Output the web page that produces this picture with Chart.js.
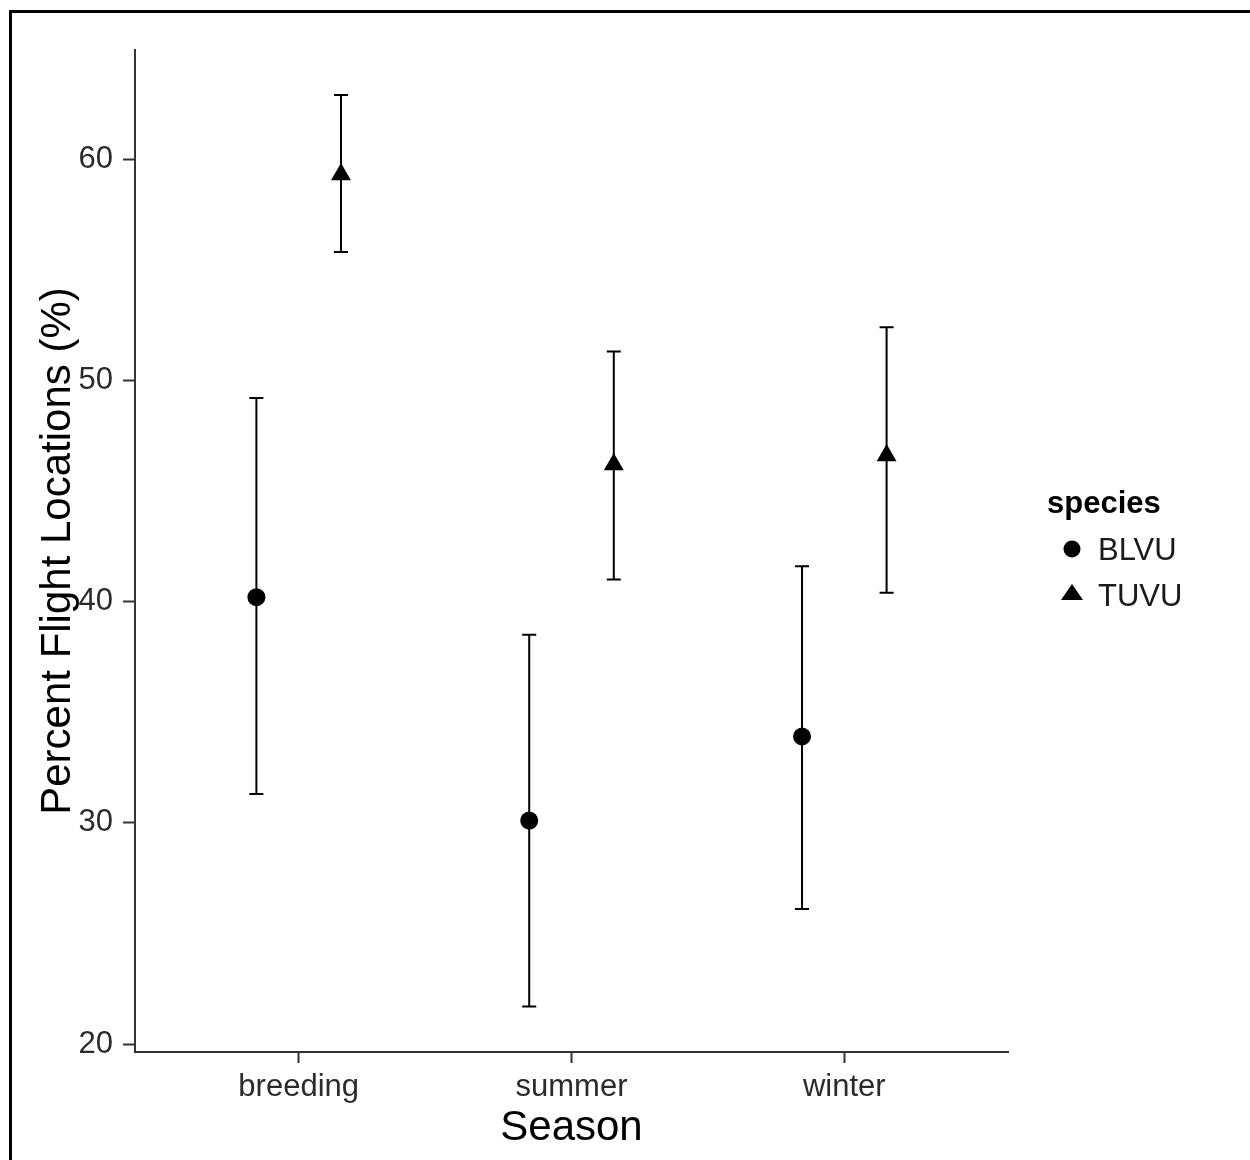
<!DOCTYPE html>
<html>
<head>
<meta charset="utf-8">
<script src="https://cdn.jsdelivr.net/npm/chart.js@4.4.0/dist/chart.umd.min.js"></script>
<style>
  html, body { margin: 0; padding: 0; background: #fff; overflow: hidden; }
  #frame { position: absolute; left: 9px; top: 10px; width: 1300px; height: 1200px; border: 3px solid #000; box-sizing: border-box; }
  #c { position: absolute; left: 0; top: 0; }
</style>
</head>
<body>
<div id="frame"></div>
<canvas id="c" width="1250" height="1160"></canvas>
<script>
var seasons = ["breeding", "summer", "winter"];
var species = ["BLVU", "TUVU"];
var blvuMean = [40.2, 30.1, 33.9];
var blvuLow = [31.3, 21.7, 26.1];
var blvuHigh = [49.2, 38.5, 41.6];
var tuvuMean = [59.3, 46.2, 46.6];
var tuvuLow = [55.8, 41.0, 40.4];
var tuvuHigh = [62.9, 51.3, 52.4];
var yTicks = [20, 30, 40, 50, 60];
var dodge = 0.155;

Chart.defaults.font.family = "'Liberation Sans', Arial, sans-serif";

function pts(means, off) {
  return means.map(function(v, i){ return {x: i + 1 + off, y: v}; });
}

var errorBars = {
  id: "errorBars",
  beforeDatasetsDraw: function(chart) {
    var ctx = chart.ctx, xs = chart.scales.x, ys = chart.scales.y;
    var sets = [[blvuLow, blvuHigh, -dodge], [tuvuLow, tuvuHigh, dodge]];
    ctx.save();
    ctx.strokeStyle = "#000";
    ctx.lineWidth = 2;
    sets.forEach(function(s){
      for (var i = 0; i < seasons.length; i++) {
        var x = xs.getPixelForValue(i + 1 + s[2]);
        var y1 = ys.getPixelForValue(s[0][i]);
        var y2 = ys.getPixelForValue(s[1][i]);
        ctx.beginPath();
        ctx.moveTo(x, y1); ctx.lineTo(x, y2);
        ctx.moveTo(x - 7, y1); ctx.lineTo(x + 7, y1);
        ctx.moveTo(x - 7, y2); ctx.lineTo(x + 7, y2);
        ctx.stroke();
      }
    });
    ctx.restore();
  },
  afterDraw: function(chart) {
    var ctx = chart.ctx;
    ctx.save();
    ctx.fillStyle = "#000";
    ctx.font = "bold 31px 'Liberation Sans', Arial, sans-serif";
    ctx.textBaseline = "middle";
    ctx.fillText("species", 1047, 504);
    ctx.font = "31px 'Liberation Sans', Arial, sans-serif";
    ctx.fillStyle = "#1a1a1a";
    ctx.fillText(species[0], 1098, 551);
    ctx.fillText(species[1], 1098, 597);
    ctx.fillStyle = "#000";
    ctx.beginPath();
    ctx.arc(1072, 549, 8.5, 0, Math.PI * 2);
    ctx.fill();
    ctx.beginPath();
    ctx.moveTo(1072, 584); ctx.lineTo(1083, 600); ctx.lineTo(1061, 600);
    ctx.closePath();
    ctx.fill();
    ctx.restore();
  }
};

new Chart("c", {
  type: "scatter",
  data: {
    datasets: [{
      label: species[0],
      data: pts(blvuMean, -dodge),
      pointStyle: "circle",
      pointRadius: 9,
      pointHoverRadius: 9,
      backgroundColor: "#000",
      borderColor: "#000",
      borderWidth: 0
    }, {
      label: species[1],
      data: pts(tuvuMean, dodge),
      pointStyle: "triangle",
      pointRadius: 11.5,
      pointHoverRadius: 11.5,
      backgroundColor: "#000",
      borderColor: "#000",
      borderWidth: 0
    }]
  },
  options: {
    responsive: false,
    animation: false,
    events: [],
    layout: { padding: { left: 33, top: 50, right: 242, bottom: 6 } },
    plugins: { legend: { display: false }, tooltip: { enabled: false } },
    scales: {
      x: {
        type: "linear",
        min: 0.4,
        max: 3.6,
        afterBuildTicks: function(s){ s.ticks = seasons.map(function(n, i){ return {value: i + 1}; }); },
        afterFit: function(s){ s.height = 1160 - 6 - 50 - 1002; },
        ticks: {
          callback: function(v){ return seasons[v - 1]; },
          color: "#2b2b2b",
          font: { size: 31 },
          padding: 6,
          maxRotation: 0
        },
        grid: { drawOnChartArea: false, color: "#333", tickLength: 11, tickWidth: 2 },
        border: { display: true, color: "#333", width: 2 },
        title: { display: true, text: "Season", color: "#000", font: { size: 42 }, padding: 0 }
      },
      y: {
        min: 19.64,
        max: 64.93,
        afterBuildTicks: function(s){ s.ticks = yTicks.map(function(v){ return {value: v}; }); },
        afterFit: function(s){ s.width = 135 - 33; },
        ticks: { color: "#2b2b2b", font: { size: 31 }, padding: 10 },
        grid: { drawOnChartArea: false, color: "#333", tickLength: 12, tickWidth: 2 },
        border: { display: true, color: "#333", width: 2 },
        title: { display: true, text: "Percent Flight Locations (%)", color: "#000", font: { size: 42 }, padding: 0 }
      }
    }
  },
  plugins: [errorBars]
});
</script>
</body>
</html>
